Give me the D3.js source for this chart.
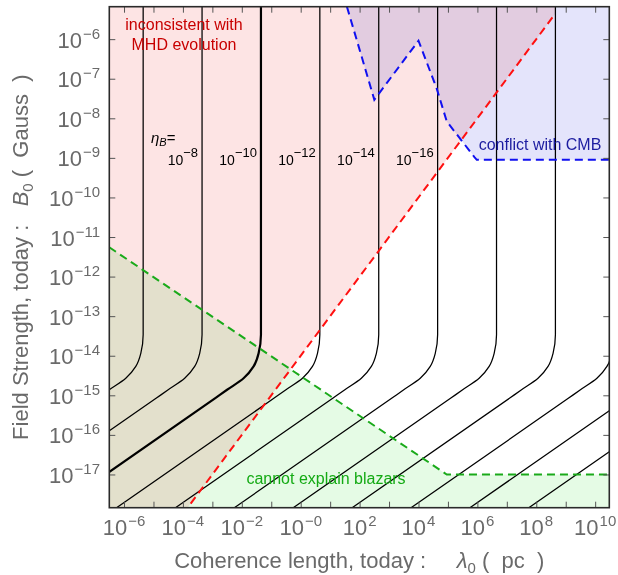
<!DOCTYPE html>
<html>
<head>
<meta charset="utf-8">
<script src="https://cdn.jsdelivr.net/npm/d3@7/dist/d3.min.js"></script>
<style>
  body { margin: 0; background: #fff; }
  svg { display: block; font-family: "Liberation Sans", Arial, Helvetica, sans-serif; }
  text { white-space: pre; }
</style>
</head>
<body>
<div id="chart"></div>
<script>
// Todos los valores en exponentes log10: [log10(lambda0 / pc), log10(B0 / Gauss)]
var xDomainExp = [-6.5, 10.48];
var yDomainExp = [-17.84, -5.18];

var xTickExps = [-6, -5, -4, -3, -2, -1, 0, 1, 2, 3, 4, 5, 6, 7, 8, 9, 10];
var xLabelExps = [-6, -4, -2, 0, 2, 4, 6, 8, 10];
var yTickExps = [-6, -7, -8, -9, -10, -11, -12, -13, -14, -15, -16, -17];

// curvas de eta_B (una por valor)
var etaExps = [-6, -8, -10, -12, -14, -16, -18, -20, -22, -24, -26];
var etaLabelExps = [-8, -10, -12, -14, -16];
var etaThick = -10;
var etaCurves = [
  [[-5.35, -5.0], [-5.35, -13.47], [-5.43, -13.94], [-5.60, -14.27], [-5.94, -14.57], [-6.50, -14.86], [-6.90, -15.07], [-12.56, -18.0]],
  [[-3.35, -5.0], [-3.35, -13.47], [-3.43, -13.94], [-3.60, -14.27], [-3.94, -14.57], [-4.50, -14.86], [-4.90, -15.07], [-10.56, -18.0]],
  [[-1.35, -5.0], [-1.35, -13.47], [-1.43, -13.94], [-1.60, -14.27], [-1.94, -14.57], [-2.50, -14.86], [-2.90, -15.07], [-8.56, -18.0]],
  [[0.65, -5.0], [0.65, -13.47], [0.57, -13.94], [0.40, -14.27], [0.06, -14.57], [-0.50, -14.86], [-0.90, -15.07], [-6.56, -18.0]],
  [[2.65, -5.0], [2.65, -13.47], [2.57, -13.94], [2.40, -14.27], [2.06, -14.57], [1.50, -14.86], [1.10, -15.07], [-4.56, -18.0]],
  [[4.65, -5.0], [4.65, -13.47], [4.57, -13.94], [4.40, -14.27], [4.06, -14.57], [3.50, -14.86], [3.10, -15.07], [-2.56, -18.0]],
  [[6.65, -5.0], [6.65, -13.47], [6.57, -13.94], [6.40, -14.27], [6.06, -14.57], [5.50, -14.86], [5.10, -15.07], [-0.56, -18.0]],
  [[8.65, -5.0], [8.65, -13.47], [8.57, -13.94], [8.40, -14.27], [8.06, -14.57], [7.50, -14.86], [7.10, -15.07], [1.44, -18.0]],
  [[10.65, -5.0], [10.65, -13.47], [10.57, -13.94], [10.40, -14.27], [10.06, -14.57], [9.50, -14.86], [9.10, -15.07], [3.44, -18.0]],
  [[12.65, -5.0], [12.65, -13.47], [12.57, -13.94], [12.40, -14.27], [12.06, -14.57], [11.50, -14.86], [11.10, -15.07], [5.44, -18.0]],
  [[14.65, -5.0], [14.65, -13.47], [14.57, -13.94], [14.40, -14.27], [14.06, -14.57], [13.50, -14.86], [13.10, -15.07], [7.44, -18.0]]
];

// limites de las regiones excluidas
var mhdLine = [[-4.0, -18.0], [8.65, -5.35]];
var blazarLine = [[-6.5, -11.26], [4.96, -17.0], [10.48, -17.0]];
var cmbLine = [[1.57, -5.18], [2.50, -7.53], [4.00, -6.04], [4.62, -7.25], [4.96, -8.08], [5.90, -8.98], [5.98, -9.05], [10.48, -9.05]];

var width = 618, height = 575;
var plot = { left: 109.3, top: 6.7, right: 609.3, bottom: 507.7 };

var svg = d3.select("#chart").append("svg")
    .attr("width", width)
    .attr("height", height);

var x = d3.scaleLog()
    .domain([Math.pow(10, xDomainExp[0]), Math.pow(10, xDomainExp[1])])
    .range([plot.left, plot.right]);
var y = d3.scaleLog()
    .domain([Math.pow(10, yDomainExp[0]), Math.pow(10, yDomainExp[1])])
    .range([plot.bottom, plot.top]);

function px(d) { return x(Math.pow(10, d[0])); }
function py(d) { return y(Math.pow(10, d[1])); }

svg.append("clipPath").attr("id", "clip")
  .append("rect")
    .attr("x", plot.left).attr("y", plot.top)
    .attr("width", plot.right - plot.left)
    .attr("height", plot.bottom - plot.top);

var area = svg.append("g").attr("clip-path", "url(#clip)");

var poly = d3.line().x(px).y(py);

// regiones (multiply para que se mezclen los colores)
var mhdRegion = [[xDomainExp[0] - 1, yDomainExp[1] + 1], [xDomainExp[0] - 1, -18.0]]
    .concat(mhdLine)
    .concat([[mhdLine[1][0], yDomainExp[1] + 1]]);
var blazarRegion = [[xDomainExp[0] - 1, blazarLine[0][1] + 0.5]]
    .concat(blazarLine)
    .concat([[xDomainExp[1] + 1, blazarLine[2][1]], [xDomainExp[1] + 1, -18.5], [xDomainExp[0] - 1, -18.5]]);
var cmbRegion = [[cmbLine[0][0] - 0.1, yDomainExp[1] + 0.3]]
    .concat(cmbLine)
    .concat([[xDomainExp[1] + 1, cmbLine[cmbLine.length - 1][1]], [xDomainExp[1] + 1, yDomainExp[1] + 1]]);

area.append("path").datum(mhdRegion)
    .attr("d", function(d) { return poly(d) + "Z"; })
    .attr("fill", "#fde4e4")
    .style("mix-blend-mode", "multiply");
area.append("path").datum(blazarRegion)
    .attr("d", function(d) { return poly(d) + "Z"; })
    .attr("fill", "#e5fbe5")
    .style("mix-blend-mode", "multiply");
area.append("path").datum(cmbRegion)
    .attr("d", function(d) { return poly(d) + "Z"; })
    .attr("fill", "#e4e4fb")
    .style("mix-blend-mode", "multiply");

// curvas eta_B
var curveLine = d3.line().x(px).y(py).curve(d3.curveMonotoneY);
area.selectAll(".eta")
    .data(etaCurves)
    .enter().append("path")
    .attr("class", "eta")
    .attr("d", curveLine)
    .attr("fill", "none")
    .attr("stroke", "#000")
    .attr("stroke-width", function(d, i) { return etaExps[i] === etaThick ? 2.2 : 1.25; });

// lineas discontinuas
var dashLine = d3.line().x(px).y(py);
area.append("path").datum(mhdLine)
    .attr("d", dashLine).attr("fill", "none")
    .attr("stroke", "#ff1010").attr("stroke-width", 2).attr("stroke-dasharray", "8,5");
area.append("path").datum(blazarLine)
    .attr("d", dashLine).attr("fill", "none")
    .attr("stroke", "#1aaa1a").attr("stroke-width", 2).attr("stroke-dasharray", "8,5");
area.append("path").datum(cmbLine)
    .attr("d", dashLine).attr("fill", "none")
    .attr("stroke", "#1010f0").attr("stroke-width", 2).attr("stroke-dasharray", "8,5");

// textos de las regiones
function regionText(lines, cx, by, color) {
  lines.forEach(function(t, i) {
    svg.append("text")
        .attr("x", cx).attr("y", by + i * 20)
        .attr("text-anchor", "middle")
        .attr("fill", color)
        .style("font-size", "16px")
        .text(t);
  });
}
regionText(["inconsistent with", "MHD evolution"], 184, 30, "#c80000");
regionText(["conflict with CMB"], 540, 150, "#1c1ca0");
regionText(["cannot explain blazars"], 326, 484, "#14aa14");

// etiquetas eta_B
var etaLbl = svg.append("text")
    .attr("x", 151).attr("y", 143)
    .style("font-size", "15px").attr("fill", "#000");
etaLbl.append("tspan").style("font-style", "italic").text("\u03b7");
etaLbl.append("tspan").style("font-style", "italic").style("font-size", "11px").attr("dy", 3).text("B");
etaLbl.append("tspan").attr("dy", -3).text("=");

etaLabelExps.forEach(function(e) {
  var i = etaExps.indexOf(e);
  var t = svg.append("text")
      .attr("x", px(etaCurves[i][0]) - 4).attr("y", 165)
      .attr("text-anchor", "end")
      .style("font-size", "14px").attr("fill", "#000");
  t.append("tspan").text("10");
  t.append("tspan").attr("dy", -8).style("font-size", "13px").text("\u2212" + Math.abs(e));
});

// ejes
var tickGray = "#555";
function styleAxis(g) {
  g.select(".domain").remove();
  g.selectAll(".tick line").attr("stroke", tickGray).attr("stroke-width", 1);
  g.selectAll(".tick text").remove();
}
var xTicks = xTickExps.map(function(e) { return Math.pow(10, e); });
var yTicks = yTickExps.map(function(e) { return Math.pow(10, e); });

svg.append("g").attr("transform", "translate(0," + plot.bottom + ")")
    .call(d3.axisBottom(x).tickValues(xTicks).tickSize(-6).tickSizeOuter(0)).call(styleAxis);
svg.append("g").attr("transform", "translate(0," + plot.top + ")")
    .call(d3.axisTop(x).tickValues(xTicks).tickSize(-6).tickSizeOuter(0)).call(styleAxis);
svg.append("g").attr("transform", "translate(" + plot.left + ",0)")
    .call(d3.axisLeft(y).tickValues(yTicks).tickSize(-6).tickSizeOuter(0)).call(styleAxis);
svg.append("g").attr("transform", "translate(" + plot.right + ",0)")
    .call(d3.axisRight(y).tickValues(yTicks).tickSize(-6).tickSizeOuter(0)).call(styleAxis);

// marco
svg.append("rect")
    .attr("x", plot.left).attr("y", plot.top)
    .attr("width", plot.right - plot.left)
    .attr("height", plot.bottom - plot.top)
    .attr("fill", "none").attr("stroke", "#2a2a2a").attr("stroke-width", 1.6);

var labelGray = "#6a6a6a";
function powLabel(sel, e) {
  sel.append("tspan").text("10");
  sel.append("tspan").attr("dy", -9).style("font-size", "15px").attr("dx", 1)
      .text(e < 0 ? "\u2212" + Math.abs(e) : (e === 0 ? "\u22120" : String(e)));
}
xLabelExps.forEach(function(e) {
  var t = svg.append("text")
      .attr("x", x(Math.pow(10, e))).attr("y", 534.5)
      .attr("text-anchor", "middle")
      .attr("fill", labelGray).style("font-size", "22px");
  powLabel(t, e);
});
yTickExps.forEach(function(e) {
  var t = svg.append("text")
      .attr("x", 100).attr("y", y(Math.pow(10, e)) + 8.5)
      .attr("text-anchor", "end")
      .attr("fill", labelGray).style("font-size", "22px");
  powLabel(t, e);
});

// titulos de ejes
var xt = svg.append("text")
    .attr("x", (plot.left + plot.right) / 2).attr("y", 568)
    .attr("text-anchor", "middle")
    .attr("fill", labelGray).style("font-size", "22px");
xt.append("tspan").text("Coherence length, today :     ");
xt.append("tspan").style("font-style", "italic").text("\u03bb");
xt.append("tspan").attr("dy", 5).style("font-size", "15px").text("0");
xt.append("tspan").attr("dy", -5).text(" (  pc  )");

var yt = svg.append("text")
    .attr("transform", "translate(28," + (plot.top + plot.bottom) / 2 + ") rotate(-90)")
    .attr("text-anchor", "middle")
    .attr("fill", labelGray).style("font-size", "22px");
yt.append("tspan").text("Field Strength, today :   ");
yt.append("tspan").style("font-style", "italic").text("B");
yt.append("tspan").attr("dy", 5).style("font-size", "15px").text("0");
yt.append("tspan").attr("dy", -5).text(" (  Gauss  )");
</script>
</body>
</html>
